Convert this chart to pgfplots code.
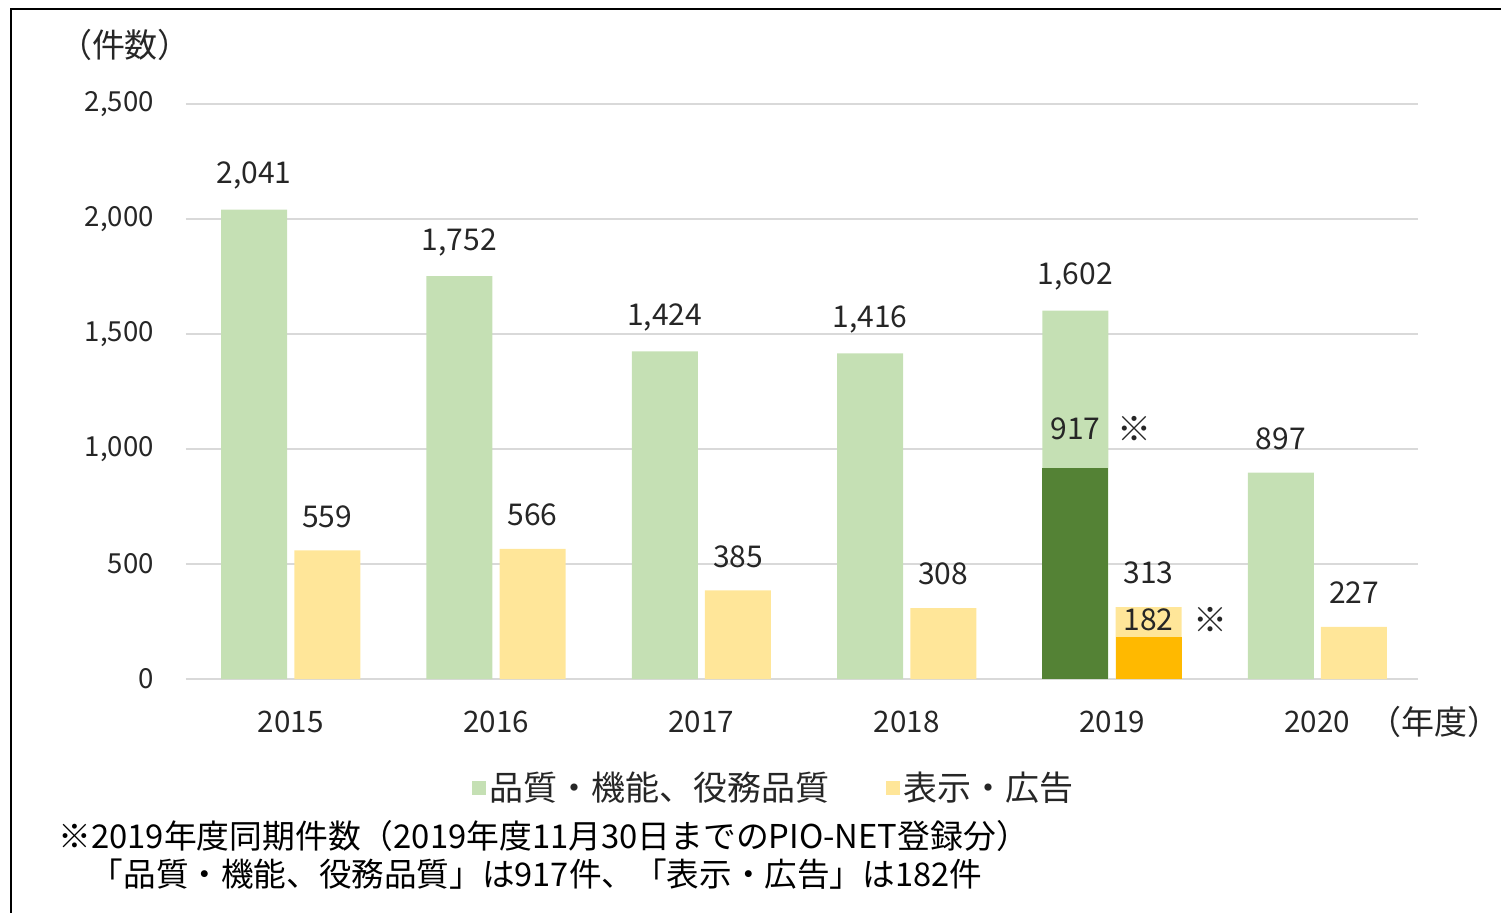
\documentclass[border=0pt]{standalone}
\usepackage{pgfplots}
\pgfplotsset{compat=1.18}
\usepackage{fontspec}
\setmainfont{Noto Sans CJK JP}
\definecolor{lgreen}{HTML}{C5E0B4}
\definecolor{dgreen}{HTML}{548235}
\definecolor{lyellow}{HTML}{FFE699}
\definecolor{orangeb}{HTML}{FFB900}
\definecolor{gridc}{HTML}{D9D9D9}
\definecolor{txt}{HTML}{262626}
\begin{document}
\begin{tikzpicture}
\path[use as bounding box] (0,0) rectangle (750.5pt,456pt);
\draw[line width=1pt] (5.5pt,-2pt) -- (5.5pt,451.5pt) -- (752pt,451.5pt);
\begin{axis}[
  at={(93pt,116.5pt)}, anchor=south west,
  scale only axis, width=616pt, height=287.5pt,
  xmin=-0.51, xmax=5.49, ymin=0, ymax=2500,
  ytick={0,500,...,2500},
  xtick={0,...,5},
  xticklabels={2015,2016,2017,2018,2019,2020},
  axis line style={draw=none},
  major tick length=0pt,
  ymajorgrids, grid style={gridc, line width=0.8pt},
  /pgf/number format/.cd, 1000 sep={,}, assume math mode=true,
  /pgfplots/.cd,
  xticklabel style={font=\fontsize{14.8pt}{16pt}\selectfont, text=txt, anchor=center, yshift=-21.5pt},
  yticklabel style={font=\fontsize{13.8pt}{15pt}\selectfont, text=txt, anchor=east, xshift=-12.5pt},
  ybar, bar width=33pt,
  nodes near coords,
  nodes near coords style={font=\fontsize{15pt}{16pt}\selectfont, text=txt, anchor=center, yshift=17pt},
  legend style={at={(0.478,-0.1896)}, anchor=center, draw=none, inner sep=0pt,
    font=\fontsize{17pt}{19pt}\selectfont, text=txt,
    /tikz/every even column/.append style={column sep=26pt}},
  legend columns=2,
  legend image code/.code={\fill[#1,draw=none] (0pt,-3.5pt) rectangle (7pt,3.5pt);},
]
\addplot[fill=lgreen, draw=none, bar shift=-18.3pt] coordinates {(0,2041) (1,1752) (2,1424) (3,1416) (4,1602) (5,897)};
\addlegendentry{品質・機能、役務品質}
\addplot[fill=lyellow, draw=none, bar shift=18.3pt] coordinates {(0,559) (1,566) (2,385) (3,308) (4,313) (5,227)};
\addlegendentry{表示・広告}
\addplot[fill=dgreen, draw=none, bar shift=-18.3pt, forget plot,
  nodes near coords style={yshift=2.5pt}] coordinates {(4,917)};
\addplot[fill=orangeb, draw=none, bar shift=18.3pt, forget plot,
  nodes near coords style={yshift=-8.5pt}] coordinates {(4,182)};
\node[font=\fontsize{17pt}{18pt}\selectfont, text=txt, xshift=11pt, yshift=19.5pt] at (axis cs:4,917) {※};
\node[font=\fontsize{17pt}{18pt}\selectfont, text=txt, xshift=49pt, yshift=8.5pt] at (axis cs:4,182) {※};
\end{axis}
\node[font=\fontsize{16.5pt}{18pt}\selectfont, text=txt] at (62.5pt,433.5pt) {（件数）};
\node[font=\fontsize{16.5pt}{18pt}\selectfont, text=txt] at (717pt,95pt) {（年度）};
\node[font=\fontsize{16.4pt}{18pt}\selectfont, text=black, anchor=west, inner sep=0pt] at (29pt,38pt) {※2019年度同期件数（2019年度11月30日までのPIO-NET登録分）};
\node[font=\fontsize{16.3pt}{18pt}\selectfont, text=black, anchor=west, inner sep=0pt] at (29pt,19pt) {　「品質・機能、役務品質」は917件、「表示・広告」は182件};
\end{tikzpicture}
\end{document}
